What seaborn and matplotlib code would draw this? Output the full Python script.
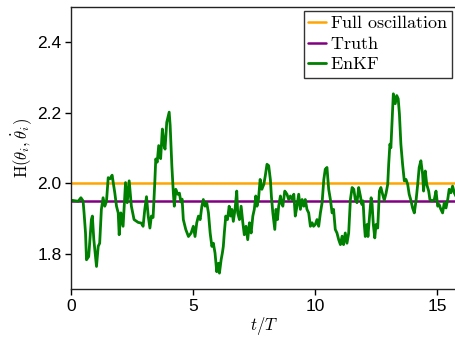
import matplotlib
matplotlib.use("Agg")
import matplotlib.pyplot as plt
import seaborn as sns

# EnKF estimate
t_enkf = [0.00, 0.29, 0.40, 0.49, 0.53, 0.59, 0.63, 0.72, 0.83, 0.87, 0.93, 1.04, 1.11, 1.17,
          1.24, 1.31, 1.38, 1.45, 1.52, 1.60, 1.68, 1.79, 1.86, 1.93, 1.97, 2.04, 2.13, 2.23,
          2.30, 2.38, 2.47, 2.58, 2.75, 2.88, 2.95, 3.02, 3.09, 3.16, 3.23, 3.29, 3.36, 3.43,
          3.47, 3.53, 3.59, 3.67, 3.74, 3.81, 3.85, 3.92, 4.02, 4.06, 4.13, 4.19, 4.23, 4.29,
          4.37, 4.44, 4.50, 4.55, 4.60, 4.70, 4.81, 4.92, 5.01, 5.08, 5.15, 5.22, 5.29, 5.36,
          5.42, 5.49, 5.56, 5.63, 5.70, 5.77, 5.83, 5.90, 5.97, 6.04, 6.08, 6.15, 6.20, 6.24,
          6.28, 6.34, 6.41, 6.48, 6.54, 6.59, 6.65, 6.72, 6.79, 6.83, 6.90, 6.97, 7.04, 7.10,
          7.17, 7.24, 7.31, 7.38, 7.45, 7.51, 7.57, 7.62, 7.68, 7.75, 7.82, 7.90, 7.96, 8.03,
          8.10, 8.17, 8.21, 8.27, 8.35, 8.40, 8.46, 8.51, 8.58, 8.62, 8.68, 8.76, 8.85, 8.92,
          8.99, 9.06, 9.13, 9.19, 9.26, 9.33, 9.40, 9.47, 9.54, 9.60, 9.67, 9.74, 9.81, 9.88,
          9.94, 10.01, 10.08, 10.15, 10.22, 10.29, 10.36, 10.42, 10.49, 10.56, 10.63, 10.70,
          10.76, 10.83, 10.90, 10.97, 11.04, 11.11, 11.17, 11.24, 11.31, 11.38, 11.45, 11.52,
          11.59, 11.65, 11.72, 11.79, 11.86, 11.92, 11.97, 12.02, 12.06, 12.13, 12.17, 12.23,
          12.30, 12.34, 12.39, 12.45, 12.50, 12.57, 12.64, 12.70, 12.77, 12.84, 12.91, 12.98,
          13.02, 13.07, 13.11, 13.16, 13.21, 13.29, 13.35, 13.41, 13.46, 13.52, 13.59, 13.66,
          13.73, 13.80, 13.86, 13.93, 14.00, 14.07, 14.14, 14.21, 14.27, 14.34, 14.41, 14.45,
          14.52, 14.58, 14.66, 14.71, 14.80, 14.89, 14.96, 15.03, 15.09, 15.16, 15.23, 15.30,
          15.37, 15.44, 15.50, 15.57, 15.64, 15.71, 15.78]
h_enkf = [1.952, 1.949, 1.959, 1.950, 1.916, 1.859, 1.783, 1.792, 1.897, 1.907, 1.840, 1.764,
          1.821, 1.830, 1.926, 1.959, 1.935, 1.949, 2.016, 2.013, 2.023, 1.973, 1.935, 1.916,
          1.854, 1.916, 1.878, 2.002, 1.945, 2.007, 1.935, 1.897, 1.889, 1.887, 1.878, 1.926,
          1.962, 1.907, 1.873, 1.907, 1.903, 2.002, 2.069, 2.060, 2.107, 2.070, 2.154, 2.107,
          2.097, 2.173, 2.202, 2.164, 2.049, 1.973, 1.935, 1.983, 1.969, 1.972, 1.947, 1.955,
          1.897, 1.869, 1.849, 1.859, 1.878, 1.849, 1.888, 1.907, 1.897, 1.935, 1.954, 1.935,
          1.945, 1.916, 1.859, 1.821, 1.830, 1.802, 1.749, 1.773, 1.745, 1.783, 1.802, 1.821,
          1.859, 1.907, 1.897, 1.935, 1.907, 1.926, 1.892, 1.926, 1.978, 1.916, 1.897, 1.935,
          1.888, 1.854, 1.878, 1.840, 1.888, 1.859, 1.907, 1.926, 1.964, 1.935, 1.954, 2.011,
          1.983, 1.997, 2.021, 2.054, 2.050, 2.010, 1.964, 1.916, 1.869, 1.926, 1.897, 1.935,
          1.964, 1.945, 1.935, 1.978, 1.969, 1.954, 1.964, 1.954, 1.969, 1.907, 1.935, 1.969,
          1.926, 1.954, 1.935, 1.954, 1.926, 1.916, 1.878, 1.888, 1.878, 1.883, 1.897, 1.878,
          1.916, 1.945, 2.011, 2.040, 2.045, 1.983, 1.954, 1.916, 1.926, 1.869, 1.859, 1.840,
          1.826, 1.850, 1.826, 1.859, 1.830, 1.859, 1.954, 1.988, 1.983, 1.954, 1.945, 1.988,
          1.964, 1.940, 1.950, 1.883, 1.849, 1.883, 1.849, 1.902, 1.959, 1.940, 1.883, 1.845,
          1.883, 1.873, 1.978, 1.988, 1.969, 1.952, 1.971, 1.997, 2.054, 2.111, 2.101, 2.178,
          2.254, 2.226, 2.249, 2.240, 2.197, 2.111, 2.054, 2.007, 2.011, 1.997, 1.969, 1.952,
          1.930, 1.916, 1.950, 1.997, 2.045, 2.064, 2.026, 1.978, 2.035, 1.997, 1.978, 1.954,
          1.950, 1.954, 1.978, 1.935, 1.940, 1.926, 1.916, 1.945, 1.930, 1.954, 1.983, 1.973,
          1.992, 1.973, 1.963]

# reference levels
t_ref = [0.0, 15.78]
h_full = [2.0, 2.0]
h_truth = [1.95, 1.95]

sns.set_style("ticks")
plt.rcParams['font.family'] = ['Liberation Sans', 'DejaVu Sans']
plt.rcParams['mathtext.fontset'] = 'cm'
plt.rcParams['text.color'] = 'black'
plt.rcParams['axes.labelcolor'] = 'black'

fig = plt.figure(figsize=(4.56, 3.40), dpi=100)
ax = fig.add_axes([0.156, 0.15, 0.844, 0.829])

sns.lineplot(x=t_ref, y=h_full, color='orange', lw=1.8, ax=ax,
             label=r'$\mathrm{Full\ oscillation}$')
sns.lineplot(x=t_ref, y=h_truth, color='purple', lw=1.8, ax=ax,
             label=r'$\mathrm{Truth}$')
sns.lineplot(x=t_enkf, y=h_enkf, color='green', lw=2.0, ax=ax,
             label=r'$\mathrm{EnKF}$', sort=False)

ax.set_xlim(0, 15.78)
ax.set_ylim(1.7, 2.5)
ax.set_xticks([0, 5, 10, 15])
ax.set_yticks([1.8, 2.0, 2.2, 2.4])
ax.tick_params(labelsize=12.5, length=4, width=1, direction='out', colors='black', pad=3)
for s in ['left', 'bottom', 'top']:
    ax.spines[s].set_color('#222222')
    ax.spines[s].set_linewidth(1.0)
ax.spines['right'].set_visible(False)

ax.set_xlabel(r'$t/T$', fontsize=12, labelpad=1)
ax.set_ylabel(r'$\mathrm{H}(\theta_i,\dot{\theta}_i)$', fontsize=12, labelpad=2)

leg = ax.legend(loc='upper right', fontsize=13, frameon=True, fancybox=False,
                handlelength=1.0, handletextpad=0.2, borderpad=0.25,
                labelspacing=0.2, borderaxespad=0.2)
leg.get_frame().set_edgecolor('#333333')
leg.get_frame().set_linewidth(1.0)
leg.get_frame().set_alpha(1)
for txt in leg.get_texts():
    txt.set_color('black')

fig.savefig('out.png', dpi=100)
